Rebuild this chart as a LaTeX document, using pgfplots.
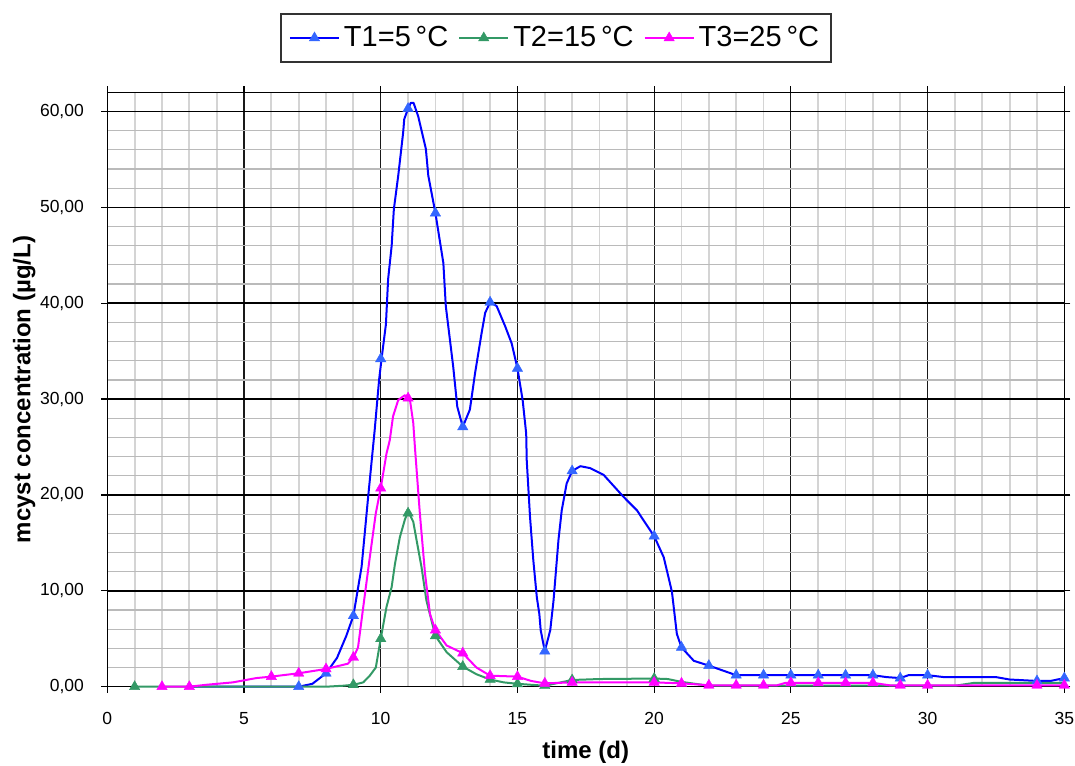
\documentclass[border=0pt]{standalone}
\usepackage{pgfplots}
\pgfplotsset{compat=1.18}
\usepackage{pgfplotstable}
\usepackage{fontspec}
\setmainfont{Liberation Sans}
\definecolor{tone}{HTML}{0000FF}
\definecolor{tonem}{HTML}{3366FF}
\definecolor{ttwo}{HTML}{339966}
\definecolor{tthree}{HTML}{FF00FF}

\pgfplotstableread{
x y
3 0
5 0
7 0
7.5 0.3
8 1.4
8.4 3.0
8.74 5.3
9.0 7.4
9.3 12.5
9.54 19.8
9.78 26.8
9.94 32.0
10.03 34.2
10.19 37.8
10.27 42.5
10.4 46.0
10.48 49.8
10.64 53.3
10.82 57.8
10.86 59.2
11.0 60.3
11.1 60.9
11.2 60.9
11.37 59.5
11.65 56.1
11.74 53.3
12.0 49.4
12.29 44.2
12.38 39.7
12.65 33.4
12.8 29.2
13.0 27.1
13.26 28.9
13.45 32.7
13.69 36.9
13.82 39.0
14.0 40.1
14.24 39.7
14.55 37.6
14.79 35.8
15.0 33.2
15.19 29.9
15.32 26.4
15.34 23.6
15.46 17.7
15.58 13.2
15.71 9.3
15.8 7.6
15.85 5.9
16.0 3.7
16.2 5.9
16.32 9.0
16.5 15.3
16.62 18.4
16.8 21.2
17.0 22.5
17.3 23.0
17.66 22.8
18.15 22.1
18.88 19.8
19.37 18.4
19.74 16.8
20.0 15.7
20.35 13.5
20.65 9.9
20.83 5.5
21.0 4.1
21.45 2.7
22.0 2.2
22.5 1.7
23.0 1.2
28.0 1.2
28.5 1.0
29.0 0.9
29.3 1.2
30.0 1.2
30.6 1.0
32.5 1.0
33.0 0.75
34.0 0.6
34.5 0.6
35.0 0.9
}\Tonel

\pgfplotstableread{
x y
7 0
8 1.4
9 7.4
10 34.2
11 60.3
12 49.4
13 27.1
14 40.1
15 33.2
16 3.7
17 22.5
20 15.7
21 4.1
22 2.2
23 1.2
24 1.2
25 1.2
26 1.2
27 1.2
28 1.2
29 0.9
30 1.2
34 0.6
35 0.9
}\Tonem

\pgfplotstableread{
x y
1 0
3 0
5 0
7 0
8 0
8.62 0.1
9.0 0.2
9.36 0.45
9.6 1.15
9.82 2.0
10.0 5.0
10.21 8.3
10.4 10.4
10.52 12.8
10.7 15.6
10.88 17.4
11.0 18.3
11.19 17.2
11.31 15.3
11.49 12.5
11.67 9.0
12.0 5.3
12.41 3.6
13.0 2.1
13.5 1.3
14.0 0.75
14.5 0.45
15.0 0.3
16.0 0.1
16.5 0.4
17.0 0.7
18.0 0.8
20.0 0.85
20.5 0.8
21.0 0.5
21.5 0.3
22.0 0.1
31.0 0.1
31.7 0.4
35.0 0.4
}\Ttwol

\pgfplotstableread{
x y
1 0
9 0.2
10 5.0
11 18.1
12 5.3
13 2.1
14 0.75
15 0.3
16 0.1
17 0.7
20 0.85
}\Ttwom

\pgfplotstableread{
x y
2 0
3 0
3.62 0.2
4.59 0.45
5.45 0.9
6.0 1.05
6.42 1.2
7.0 1.4
8.0 1.85
8.8 2.4
9.0 3.05
9.17 4.1
9.36 8.3
9.6 13.5
9.82 18.1
10.0 20.7
10.21 24.3
10.33 25.7
10.45 28.2
10.64 29.9
10.88 30.4
11.07 29.9
11.19 27.5
11.25 25.0
11.43 18.1
11.62 11.8
11.8 7.6
12.0 5.9
12.41 4.3
13.0 3.5
13.5 2.0
14.0 1.15
15.0 1.05
15.5 0.6
16.0 0.35
17.0 0.45
20.0 0.45
21.0 0.35
22.0 0.15
24.5 0.15
24.8 0.4
28.0 0.4
28.6 0.15
35.0 0.15
}\Tthreel

\pgfplotstableread{
x y
2 0
3 0
6 1.05
7 1.4
8 1.85
9 3.05
10 20.7
11 30.1
12 5.9
13 3.5
14 1.15
15 1.05
16 0.35
17 0.45
20 0.45
21 0.35
22 0.15
23 0.15
24 0.15
25 0.4
26 0.4
27 0.4
28 0.4
29 0.15
30 0.15
34 0.15
35 0.15
}\Tthreem

\begin{document}
\begin{tikzpicture}
\begin{axis}[
  scale only axis,
  width=478.5pt, height=297.2pt,
  xmin=0, xmax=35, ymin=0, ymax=62,
  xtick={0,5,...,35}, ytick={0,10,...,60},
  minor x tick num=4, minor y tick num=4,
  grid=both,
  major x grid style={black!90, line width=0.6pt},
  major y grid style={black, line width=0.8pt},
  minor x grid style={black!17, line width=0.9pt},
  minor y grid style={black!27, line width=0.6pt},
  axis line style={black, line width=0.7pt},
  tick align=outside,
  major tick length=3pt, minor tick length=0pt,
  tick style={black, line width=0.6pt},
  x tick label style={yshift=-6.5pt},
  y tick label style={xshift=-5.2pt, /pgf/number format/.cd, fixed, fixed zerofill, precision=2, use comma},
  /pgf/number format/assume math mode=true,
  tick label style={font=\fontsize{8.75}{10}\selectfont},
  xlabel={\textbf{time (d)}},
  ylabel={\textbf{mcyst concentration (µg/L)}},
  label style={font=\fontsize{12}{14}\selectfont},
  xlabel style={at={(axis description cs:0.5,-0.1205)}, anchor=base},
  ylabel style={at={(axis description cs:-0.0805,0.5)}, anchor=base, rotate=0},
  clip=false,
  legend columns=3,
  legend style={at={(axis description cs:0.4689,1.05)}, anchor=south,
    font=\fontsize{14.5}{16}\selectfont, draw=black!80, line width=0.6pt,
    inner xsep=4pt, inner ysep=4.2pt,
    /tikz/every even column/.append style={column sep=3pt}},
  legend image code/.code={\draw[mark repeat=2,mark phase=2] plot coordinates {(0pt,0pt) (12.25pt,0pt) (24.5pt,0pt)};},
]
\addlegendimage{tone, line width=1pt, mark=triangle*, mark size=3pt, mark options={fill=tonem, draw=tonem, line width=0.2pt}}
\addlegendentry{T1=5\,°C}
\addlegendimage{ttwo, line width=1pt, mark=triangle*, mark size=3pt, mark options={fill=ttwo, draw=ttwo, line width=0.2pt}}
\addlegendentry{T2=15\,°C}
\addlegendimage{tthree, line width=1pt, mark=triangle*, mark size=3pt, mark options={fill=tthree, draw=tthree, line width=0.2pt}}
\addlegendentry{T3=25\,°C}

\addplot[tone, line width=1pt, no marks, line join=round, forget plot] table[x=x,y=y] {\Tonel};
\addplot[only marks, mark=triangle*, mark size=3pt, mark options={fill=tonem, draw=tonem, line width=0.2pt}, forget plot] table[x=x,y=y] {\Tonem};
\addplot[ttwo, line width=1pt, no marks, line join=round, forget plot] table[x=x,y=y] {\Ttwol};
\addplot[only marks, mark=triangle*, mark size=3pt, mark options={fill=ttwo, draw=ttwo, line width=0.2pt}, forget plot] table[x=x,y=y] {\Ttwom};
\addplot[tthree, line width=1pt, no marks, line join=round, forget plot] table[x=x,y=y] {\Tthreel};
\addplot[only marks, mark=triangle*, mark size=3pt, mark options={fill=tthree, draw=tthree, line width=0.2pt}, forget plot] table[x=x,y=y] {\Tthreem};
\end{axis}
\pgfresetboundingbox
\path[use as bounding box] (-53.65pt,-39.15pt) rectangle (483.85pt,343.35pt);
\end{tikzpicture}
\end{document}
